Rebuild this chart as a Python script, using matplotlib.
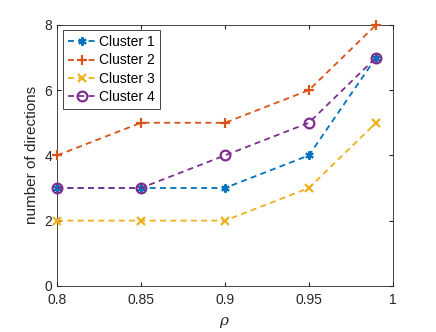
import matplotlib
matplotlib.use('Agg')
import matplotlib.pyplot as plt

plt.rcParams['font.family'] = ['Liberation Sans', 'DejaVu Sans']
plt.rcParams['mathtext.fontset'] = 'dejavuserif'

rho = [0.8, 0.85, 0.9, 0.95, 0.99]
cluster1 = [3, 3, 3, 4, 7]
cluster2 = [4, 5, 5, 6, 8]
cluster3 = [2, 2, 2, 3, 5]
cluster4 = [3, 3, 4, 5, 7]

fig = plt.figure(figsize=(4.36, 3.32), dpi=100)
ax = fig.add_axes([0.131, 0.139, 0.770, 0.786])

dash = (3.3, 2.4)
common = dict(lw=1.3, dashes=dash, clip_on=False, zorder=3)
ax.plot(rho, cluster1, marker=(6, 2, 0), color=(0, 0.447, 0.741),
        ms=6, mew=1.5, label='Cluster 1', **common)
ax.plot(rho, cluster2, marker='+', color=(0.85, 0.325, 0.098),
        ms=7.5, mew=1.6, label='Cluster 2', **common)
ax.plot(rho, cluster3, marker='x', color=(0.929, 0.694, 0.125),
        ms=5.5, mew=1.6, label='Cluster 3', **common)
ax.plot(rho, cluster4, marker='o', mfc='none', color=(0.494, 0.184, 0.556),
        ms=7, mew=1.6, label='Cluster 4', **common)

ax.set_xlim(0.8, 1)
ax.set_ylim(0, 8)
ax.set_xticks([0.8, 0.85, 0.9, 0.95, 1])
ax.set_xticklabels(['0.8', '0.85', '0.9', '0.95', '1'])
ax.set_yticks([0, 2, 4, 6, 8])
ax.tick_params(direction='in', top=True, right=True, length=3, labelsize=10,
               colors=(0.15, 0.15, 0.15))
ax.tick_params(axis='x', pad=5)
for s in ax.spines.values():
    s.set_color((0.15, 0.15, 0.15))
    s.set_linewidth(0.6)

ax.set_xlabel(r'$\rho$', fontsize=11, color=(0.15, 0.15, 0.15), labelpad=6)
ax.set_ylabel('number of directions', fontsize=11, color=(0.15, 0.15, 0.15))

leg = ax.legend(loc='upper left', fontsize=10, fancybox=False, edgecolor=(0.15, 0.15, 0.15),
                handlelength=2.1, handletextpad=0.2, borderpad=0.35, labelspacing=0.3,
                borderaxespad=0.4, framealpha=1)
leg.get_frame().set_linewidth(0.6)

fig.savefig('out.png', dpi=100)
